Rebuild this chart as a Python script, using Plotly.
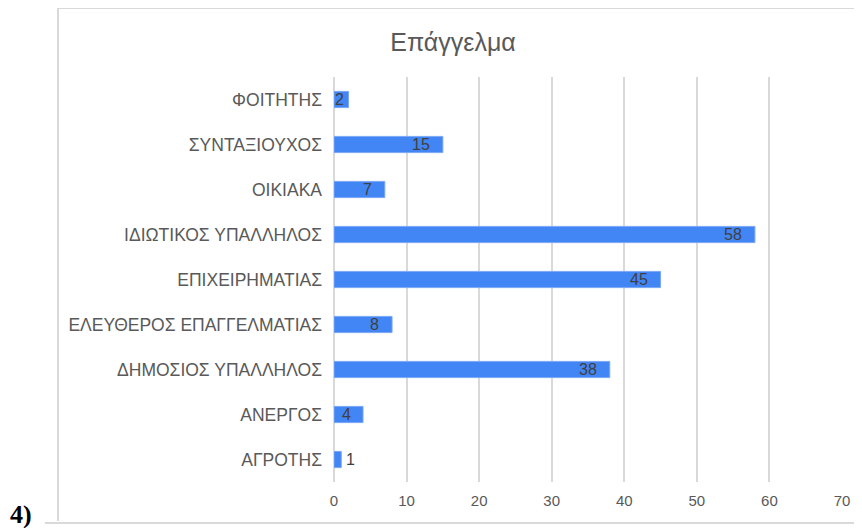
import plotly.graph_objects as go

categories = ["ΑΓΡΟΤΗΣ", "ΑΝΕΡΓΟΣ", "ΔΗΜΟΣΙΟΣ ΥΠΑΛΛΗΛΟΣ", "ΕΛΕΥΘΕΡΟΣ ΕΠΑΓΓΕΛΜΑΤΙΑΣ",
              "ΕΠΙΧΕΙΡΗΜΑΤΙΑΣ", "ΙΔΙΩΤΙΚΟΣ ΥΠΑΛΛΗΛΟΣ", "ΟΙΚΙΑΚΑ", "ΣΥΝΤΑΞΙΟΥΧΟΣ", "ΦΟΙΤΗΤΗΣ"]
values = [1, 4, 38, 8, 45, 58, 7, 15, 2]
x_ticks = [0, 10, 20, 30, 40, 50, 60, 70]

# the page body has an 8px margin, so the figure is drawn 8px smaller / shifted
OFF = 8
W, H = 862 - OFF, 528 - OFF
L, R, T, B = 334 - OFF, 20, 77 - OFF, 46
px_per_unit = (W - L - R) / 70


def px(x):
    # screen x -> paper x
    return (x - OFF - L) / (W - L - R)


def py(y):
    # screen y -> paper y
    return (H - B - (y - OFF)) / (H - T - B)


fig = go.Figure()
fig.add_trace(go.Bar(
    y=categories, x=values, orientation="h", width=0.36,
    marker=dict(color="#4285f4", line=dict(color="#7aa7f7", width=1)),
    hoverinfo="x+y", showlegend=False,
))

# value labels: inside the bar end, outside if the bar is too short
for cat, v in zip(categories, values):
    barw = v * px_per_unit
    textw = 9 * len(str(v))
    if barw < textw + 2:
        fig.add_annotation(x=v, y=cat, text=str(v), showarrow=False, xanchor="left",
                           xshift=3, font=dict(size=16, color="#404040"))
    else:
        gap = min(11, (barw - textw) / 2)
        fig.add_annotation(x=v, y=cat, text=str(v), showarrow=False, xanchor="right",
                           xshift=-gap, font=dict(size=16, color="#404040"))

line = dict(color="#d9d9d9", width=2)
fig.add_shape(type="line", xref="paper", yref="paper", x0=px(58), x1=px(870), y0=py(8), y1=py(8), line=line)
fig.add_shape(type="line", xref="paper", yref="paper", x0=px(58), x1=px(58), y0=py(8), y1=py(521), line=line)
fig.add_shape(type="line", xref="paper", yref="paper", x0=px(45), x1=px(870), y0=py(523), y1=py(523), line=line)

fig.add_annotation(x=px(21), y=py(514), xref="paper", yref="paper", text="<b>4)</b>", showarrow=False,
                   xanchor="center", yanchor="middle",
                   font=dict(family="Liberation Serif", size=26, color="#000000"))

fig.update_layout(
    width=W, height=H,
    margin=dict(l=L, r=R, t=T, b=B),
    paper_bgcolor="white", plot_bgcolor="white",
    font=dict(family="Liberation Sans, Arial, sans-serif", color="#595959"),
    title=dict(text="Επάγγελμα", x=(453 - OFF) / W, y=1 - (42 - OFF) / H, xanchor="center", yanchor="middle",
               font=dict(size=25, color="#595959")),
)
fig.update_xaxes(range=[0, 70], tickvals=x_ticks, showgrid=True, gridcolor="#d9d9d9", gridwidth=2,
                 zeroline=True, zerolinecolor="#d9d9d9", zerolinewidth=2, showline=False,
                 tickfont=dict(size=15, color="#595959"), ticklabelstandoff=8, fixedrange=True)
fig.update_yaxes(categoryorder="array", categoryarray=categories, range=[-0.5, 8.5],
                 showgrid=False, showline=False, tickfont=dict(size=17.5, color="#595959"),
                 ticklabelstandoff=11, fixedrange=True)

fig.write_html("out.html")
